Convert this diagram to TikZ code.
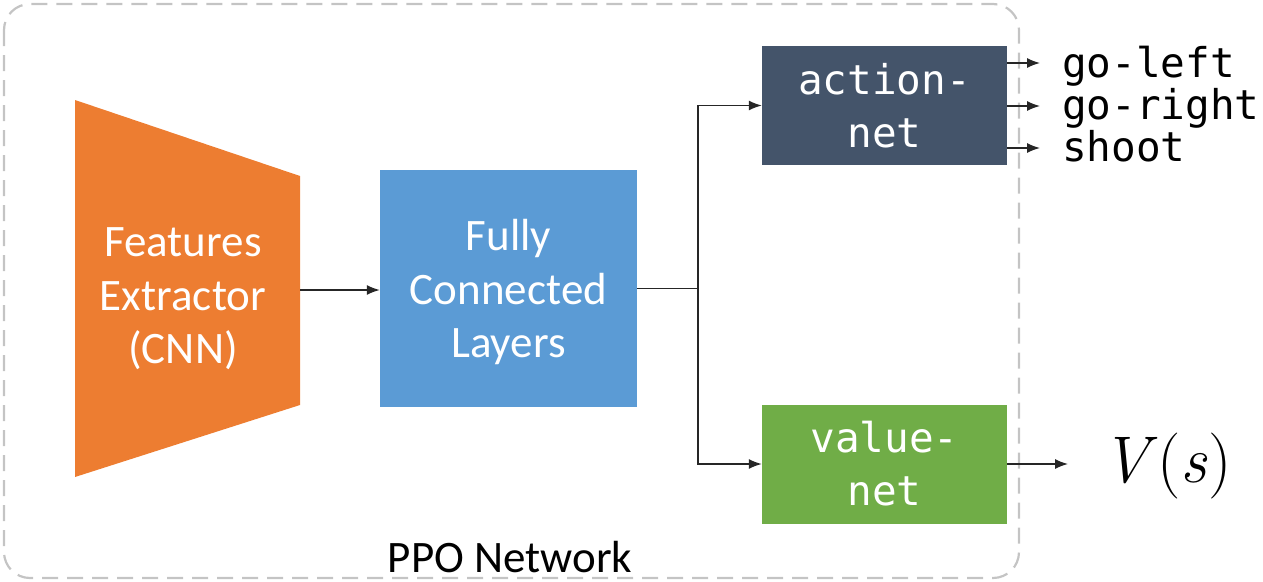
\documentclass[tikz,border=0pt]{standalone}
\usepackage{fontspec}
\usetikzlibrary{arrows.meta}
\newfontfamily\calibrifont{Carlito}
\newfontfamily\monofont{DejaVu Sans Mono}
\definecolor{feorange}{HTML}{ED7D31}
\definecolor{fcblue}{HTML}{5B9BD5}
\definecolor{anslate}{HTML}{44546A}
\definecolor{vngreen}{HTML}{70AD47}
\definecolor{bordergray}{HTML}{C4C4C4}
\tikzset{
  conn/.style={line width=1.4pt, draw=black!85, -{Latex[length=13pt,width=10pt]}},
  sanstext/.style={font=\calibrifont\fontsize{45}{53.5}\selectfont, align=center},
  monotext/.style={font=\monofont\fontsize{41}{53}\selectfont, align=center},
  netbox/.style={monotext, text=white, inner sep=0pt, minimum width=245pt, minimum height=119pt},
  outtext/.style={monotext, anchor=base west, inner xsep=22pt, inner ysep=0pt},
}
\begin{document}
\begin{tikzpicture}[x=1pt,y=-1pt]
\useasboundingbox (0,0) rectangle (1263,581);
% PPO border
\draw[bordergray, line width=2.2pt, dash pattern=on 16pt off 9pt, rounded corners=26pt]
  (4,4) rectangle (1019,578);
\node[sanstext, text=black] (ppo) at (510,557) {PPO Network};
% features extractor
\fill[feorange] (75,100) -- (300,176) -- (300,405) -- (75,477) -- cycle;
\node[sanstext, text=white] (fe) at (183,299) {Features\\Extractor\\(CNN)};
\coordinate (feR) at (300,290);
% fully connected
\node[sanstext, text=white, fill=fcblue, minimum width=257pt, minimum height=237pt, inner sep=0pt]
  (fc) at (508.5,288.5) {};
\node[sanstext, text=white] (fctext) at (508.5,292) {Fully\\Connected\\Layers};
% heads
\node[netbox, fill=anslate] (an) at (884.5,105.5) {action-\\net};
\node[netbox, fill=vngreen] (vn) at (884.5,464) {value-\\net};
\coordinate (split) at (698,288.5);
\draw[conn] (feR) -- (feR -| fc.west);
\draw[line width=1.4pt, draw=black!85] (fc.east) -- (split);
\draw[conn] (split) |- (an.west);
\draw[conn] (split) |- (vn.west);
% outputs
\node[outtext] (gl) at (1040,77) {go-left};
\node[outtext] (gr) at (1040,119) {go-right};
\node[outtext] (sh) at (1040,161) {shoot};
\coordinate (glin) at ([yshift=14pt]gl.base west);
\coordinate (grin) at ([yshift=13pt]gr.base west);
\coordinate (shin) at ([yshift=13pt]sh.base west);
\draw[conn] (an.east |- glin) -- (glin);
\draw[conn] (an.east |- grin) -- (grin);
\draw[conn] (an.east |- shin) -- (shin);
\node[anchor=west, inner xsep=33pt, inner ysep=0pt, font=\fontsize{66}{68}\selectfont] (vs) at (1068,466) {\textit{V}(\textit{s})};
\draw[conn] (vn.east) -- (vn.east -| vs.west);
\end{tikzpicture}
\end{document}
